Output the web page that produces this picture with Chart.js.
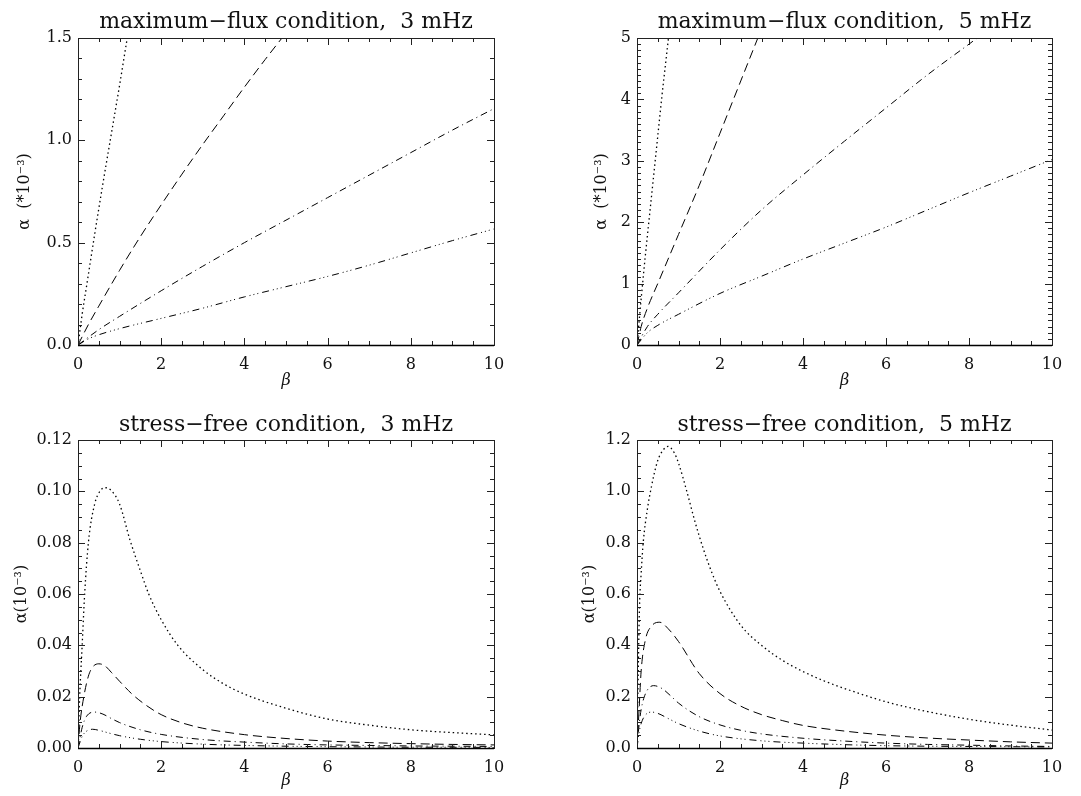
<!DOCTYPE html>
<html lang="en">
<head>
<meta charset="UTF-8">
<title>alpha vs beta</title>
<script src="https://cdn.jsdelivr.net/npm/chart.js"></script>
<style>
  body { margin: 0; background: #fff; }
  .panel { position: absolute; }
</style>
</head>
<body>

<div class="panel" style="left:0;top:0;width:540px;height:400px"><canvas id="c1"></canvas></div>
<div class="panel" style="left:540px;top:0;width:541px;height:400px"><canvas id="c2"></canvas></div>
<div class="panel" style="left:0;top:400px;width:540px;height:396px"><canvas id="c3"></canvas></div>
<div class="panel" style="left:540px;top:400px;width:541px;height:396px"><canvas id="c4"></canvas></div>

<script>
// ---- data (beta, alpha) ----
// maximum-flux, 3 mHz
const mf3DotB  = [0, 0.1, 0.2, 0.4, 0.6, 0.8, 1.0, 1.2, 1.3];
const mf3DotA  = [0, 0.15, 0.28, 0.54, 0.79, 1.03, 1.27, 1.52, 1.64];
const mf3DashB = [0, 0.25, 0.5, 1, 1.5, 2, 2.5, 3, 3.5, 4, 4.5, 5];
const mf3DashA = [0, 0.1, 0.19, 0.365, 0.53, 0.685, 0.835, 0.98, 1.12, 1.26, 1.395, 1.525];
const mf3DdB   = [0, 0.5, 1, 2, 3, 4, 5, 6, 7, 8, 9, 10];
const mf3DdA   = [0, 0.075, 0.14, 0.265, 0.385, 0.5, 0.61, 0.72, 0.83, 0.94, 1.05, 1.155];
const mf3D3B   = [0, 0.25, 0.5, 1, 2, 3, 4, 5, 6, 7, 8, 9, 10];
const mf3D3A   = [0, 0.03, 0.05, 0.08, 0.13, 0.18, 0.235, 0.285, 0.335, 0.39, 0.45, 0.51, 0.567];

// maximum-flux, 5 mHz
const mf5DotB  = [0, 0.1, 0.2, 0.3, 0.4, 0.5, 0.6, 0.7, 0.8];
const mf5DotA  = [0, 0.75, 1.45, 2.1, 2.75, 3.4, 4.05, 4.65, 5.25];
const mf5DashB = [0, 0.1, 0.25, 0.5, 1, 1.5, 2, 2.5, 3];
const mf5DashA = [0, 0.3, 0.6, 1.0, 1.8, 2.6, 3.45, 4.3, 5.15];
const mf5DdB   = [0, 0.25, 0.5, 1, 2, 3, 4, 5, 6, 7, 8, 9];
const mf5DdA   = [0, 0.3, 0.5, 0.85, 1.55, 2.2, 2.77, 3.32, 3.86, 4.4, 4.9, 5.4];
const mf5D3B   = [0, 0.25, 0.5, 1, 2, 3, 4, 5, 6, 7, 8, 9, 10];
const mf5D3A   = [0, 0.2, 0.32, 0.5, 0.84, 1.12, 1.4, 1.66, 1.92, 2.2, 2.48, 2.75, 3.02];

// stress-free, 3 mHz
const sf3DotB  = [0, 0.04, 0.1, 0.16, 0.25, 0.4, 0.55, 0.67, 0.8, 1.0, 1.25, 1.5, 1.7, 2.0, 2.4, 3.0, 3.5, 4, 5, 6, 7, 8, 9, 10];
const sf3DotA  = [0, 0.02, 0.04, 0.06, 0.08, 0.095, 0.1005, 0.1014, 0.1003, 0.095, 0.081, 0.069, 0.06, 0.05, 0.04, 0.0305, 0.025, 0.021, 0.0155, 0.0113, 0.0089, 0.0071, 0.006, 0.0051];
const sf3DashB = [0, 0.05, 0.14, 0.25, 0.35, 0.5, 0.65, 0.8, 1.0, 1.3, 1.65, 2, 2.5, 3, 4, 5, 6, 7, 8, 9, 10];
const sf3DashA = [0, 0.01, 0.02, 0.028, 0.0315, 0.0328, 0.032, 0.0295, 0.026, 0.021, 0.0165, 0.013, 0.0098, 0.0077, 0.0052, 0.0037, 0.0027, 0.0021, 0.0017, 0.0014, 0.0012];
const sf3DdB   = [0, 0.1, 0.2, 0.4, 0.6, 0.8, 1, 1.5, 2, 3, 4, 5, 6, 7, 8, 9, 10];
const sf3DdA   = [0, 0.008, 0.0122, 0.014, 0.0132, 0.0115, 0.0099, 0.0071, 0.0053, 0.0033, 0.0023, 0.0016, 0.0012, 0.001, 0.0008, 0.0007, 0.0006];
const sf3D3B   = [0, 0.1, 0.2, 0.35, 0.5, 0.75, 1, 1.5, 2, 3, 4, 5, 6, 7, 8, 9, 10];
const sf3D3A   = [0, 0.0045, 0.0065, 0.0073, 0.0069, 0.0058, 0.0048, 0.0034, 0.0025, 0.0015, 0.001, 0.0007, 0.0005, 0.0004, 0.0003, 0.0003, 0.0002];

// stress-free, 5 mHz
const sf5DotB  = [0, 0.03, 0.06, 0.1, 0.15, 0.25, 0.35, 0.5, 0.65, 0.75, 0.9, 1.0, 1.2, 1.4, 1.6, 1.8, 2.0, 2.5, 3, 3.5, 4, 4.5, 5, 6, 7, 8, 9, 10];
const sf5DotA  = [0, 0.3, 0.55, 0.68, 0.8, 0.93, 1.02, 1.12, 1.165, 1.175, 1.15, 1.11, 1.0, 0.88, 0.775, 0.685, 0.61, 0.478, 0.4, 0.342, 0.298, 0.262, 0.232, 0.18, 0.142, 0.112, 0.089, 0.07];
const sf5DashB = [0, 0.05, 0.1, 0.2, 0.35, 0.55, 0.75, 1, 1.5, 2, 2.5, 3, 3.5, 4, 5, 6, 7, 8, 9, 10];
const sf5DashA = [0, 0.15, 0.3, 0.42, 0.475, 0.49, 0.465, 0.415, 0.29, 0.212, 0.163, 0.13, 0.107, 0.088, 0.066, 0.05, 0.039, 0.031, 0.024, 0.019];
const sf5DdB   = [0, 0.05, 0.1, 0.2, 0.4, 0.6, 0.8, 1, 1.5, 2, 2.5, 3, 4, 5, 6, 7, 8, 9, 10];
const sf5DdA   = [0, 0.09, 0.15, 0.21, 0.243, 0.232, 0.205, 0.175, 0.122, 0.09, 0.069, 0.055, 0.038, 0.027, 0.019, 0.014, 0.011, 0.008, 0.006];
const sf5D3B   = [0, 0.05, 0.1, 0.2, 0.35, 0.5, 0.75, 1, 1.5, 2, 3, 4, 5, 6, 7, 8, 9, 10];
const sf5D3A   = [0, 0.06, 0.095, 0.128, 0.14, 0.135, 0.115, 0.095, 0.066, 0.047, 0.028, 0.019, 0.013, 0.009, 0.007, 0.006, 0.005, 0.004];

// line styles (IDL linestyle 1..4)
const DOTTED = [1.5, 3];
const DASHED = [9, 5];
const DASHDOT = [7, 4, 1, 4];
const DASH3DOT = [7, 4, 1, 3, 1, 3, 1, 4];

const FONT = "'DejaVu Serif', serif";

// frame with inward ticks on all four sides + panel title
const idlFrame = {
  id: 'idlFrame',
  afterDatasetsDraw(chart, args, o) {
    const {ctx, chartArea: a, scales: {x, y}} = chart;
    ctx.save();
    ctx.strokeStyle = '#222';
    ctx.lineWidth = 1;
    ctx.strokeRect(Math.round(a.left) + 0.5, Math.round(a.top) + 0.5,
                   Math.round(a.right - a.left), Math.round(a.bottom - a.top));
    ctx.beginPath();
    const n = Math.round(10 / 0.5);
    for (let i = 0; i <= n; i++) {
      const v = i * 0.5;
      const len = (i % 4 === 0) ? 7 : 4;
      const px = Math.round(x.getPixelForValue(v)) + 0.5;
      ctx.moveTo(px, a.bottom); ctx.lineTo(px, a.bottom - len);
      ctx.moveTo(px, a.top); ctx.lineTo(px, a.top + len);
    }
    const m = Math.round(o.yMax / o.yMinor);
    const per = Math.round(o.yStep / o.yMinor);
    for (let i = 0; i <= m; i++) {
      const v = i * o.yMinor;
      const len = (i % per === 0) ? 7 : 4;
      const py = Math.round(y.getPixelForValue(v)) + 0.5;
      ctx.moveTo(a.left, py); ctx.lineTo(a.left + len, py);
      ctx.moveTo(a.right, py); ctx.lineTo(a.right - len, py);
    }
    ctx.stroke();
    // darker bottom axis like the original
    ctx.beginPath();
    ctx.lineWidth = 1.5;
    ctx.strokeStyle = '#000';
    ctx.moveTo(a.left, a.bottom + 0.5); ctx.lineTo(a.right, a.bottom + 0.5);
    ctx.stroke();

    ctx.fillStyle = '#111';
    ctx.font = '22px ' + FONT;
    ctx.textAlign = 'center';
    ctx.textBaseline = 'middle';
    ctx.fillText(o.title, (a.left + a.right) / 2, o.titleY);
    ctx.restore();
  }
};

function makePanel(id, p) {
  const series = p.series.map(s => ({
    data: s.b.map((b, i) => ({x: b, y: s.a[i]})),
    showLine: true,
    borderColor: '#000',
    borderWidth: s.dash === DOTTED ? 1.3 : 1,
    borderDash: s.dash,
    pointRadius: 0,
    cubicInterpolationMode: 'monotone',
    fill: false
  }));

  new Chart(document.getElementById(id), {
    type: 'scatter',
    data: { datasets: series },
    options: {
      responsive: true,
      maintainAspectRatio: false,
      animation: false,
      events: [],
      layout: { padding: { top: p.top, right: p.right, left: 0, bottom: 0 } },
      plugins: {
        legend: { display: false },
        tooltip: { enabled: false },
        idlFrame: { title: p.title, titleY: p.titleY, yMax: p.yMax, yStep: p.yStep, yMinor: p.yMinor }
      },
      scales: {
        x: {
          type: 'linear', min: 0, max: 10,
          afterFit: s => { s.height = p.bottom; },
          grid: { display: false, drawTicks: false },
          border: { display: false },
          ticks: { stepSize: 2, padding: 10, color: '#111', font: { family: FONT, size: 16 } },
          title: { display: true, text: 'β', color: '#111',
                   font: { family: FONT, size: 16, style: 'italic' },
                   padding: { top: 0, bottom: p.xTitlePad } }
        },
        y: {
          type: 'linear', min: 0, max: p.yMax,
          afterFit: s => { s.width = p.left; },
          grid: { display: false, drawTicks: false },
          border: { display: false },
          ticks: { stepSize: p.yStep, padding: 6, color: '#111',
                   font: { family: FONT, size: 16 },
                   callback: v => v.toFixed(p.yDec) },
          title: { display: true, text: p.yTitle, color: '#111',
                   font: { family: FONT, size: 16 },
                   padding: { top: p.yTitlePad, bottom: 0 } }
        }
      }
    },
    plugins: [idlFrame]
  });
}

makePanel('c1', {
  title: 'maximum−flux condition,  3 mHz', titleY: 22,
  yTitle: 'α  (*10⁻³)', yMax: 1.5, yStep: 0.5, yMinor: 0.1, yDec: 1,
  left: 78, right: 46, top: 38, bottom: 55, yTitlePad: 15, xTitlePad: 10,
  series: [
    { b: mf3DotB, a: mf3DotA, dash: DOTTED },
    { b: mf3DashB, a: mf3DashA, dash: DASHED },
    { b: mf3DdB, a: mf3DdA, dash: DASHDOT },
    { b: mf3D3B, a: mf3D3A, dash: DASH3DOT }
  ]
});

makePanel('c2', {
  title: 'maximum−flux condition,  5 mHz', titleY: 22,
  yTitle: 'α  (*10⁻³)', yMax: 5, yStep: 1, yMinor: 0.1, yDec: 0,
  left: 97, right: 29, top: 38, bottom: 55, yTitlePad: 52, xTitlePad: 10,
  series: [
    { b: mf5DotB, a: mf5DotA, dash: DOTTED },
    { b: mf5DashB, a: mf5DashA, dash: DASHED },
    { b: mf5DdB, a: mf5DdA, dash: DASHDOT },
    { b: mf5D3B, a: mf5D3A, dash: DASH3DOT }
  ]
});

makePanel('c3', {
  title: 'stress−free condition,  3 mHz', titleY: 25,
  yTitle: 'α(10⁻³)', yMax: 0.12, yStep: 0.02, yMinor: 0.005, yDec: 2,
  left: 78, right: 46, top: 40, bottom: 48, yTitlePad: 12, xTitlePad: 6,
  series: [
    { b: sf3DotB, a: sf3DotA, dash: DOTTED },
    { b: sf3DashB, a: sf3DashA, dash: DASHED },
    { b: sf3DdB, a: sf3DdA, dash: DASHDOT },
    { b: sf3D3B, a: sf3D3A, dash: DASH3DOT }
  ]
});

makePanel('c4', {
  title: 'stress−free condition,  5 mHz', titleY: 25,
  yTitle: 'α(10⁻³)', yMax: 1.2, yStep: 0.2, yMinor: 0.05, yDec: 1,
  left: 97, right: 29, top: 40, bottom: 48, yTitlePad: 40, xTitlePad: 6,
  series: [
    { b: sf5DotB, a: sf5DotA, dash: DOTTED },
    { b: sf5DashB, a: sf5DashA, dash: DASHED },
    { b: sf5DdB, a: sf5DdA, dash: DASHDOT },
    { b: sf5D3B, a: sf5D3A, dash: DASH3DOT }
  ]
});
</script>
</body>
</html>
